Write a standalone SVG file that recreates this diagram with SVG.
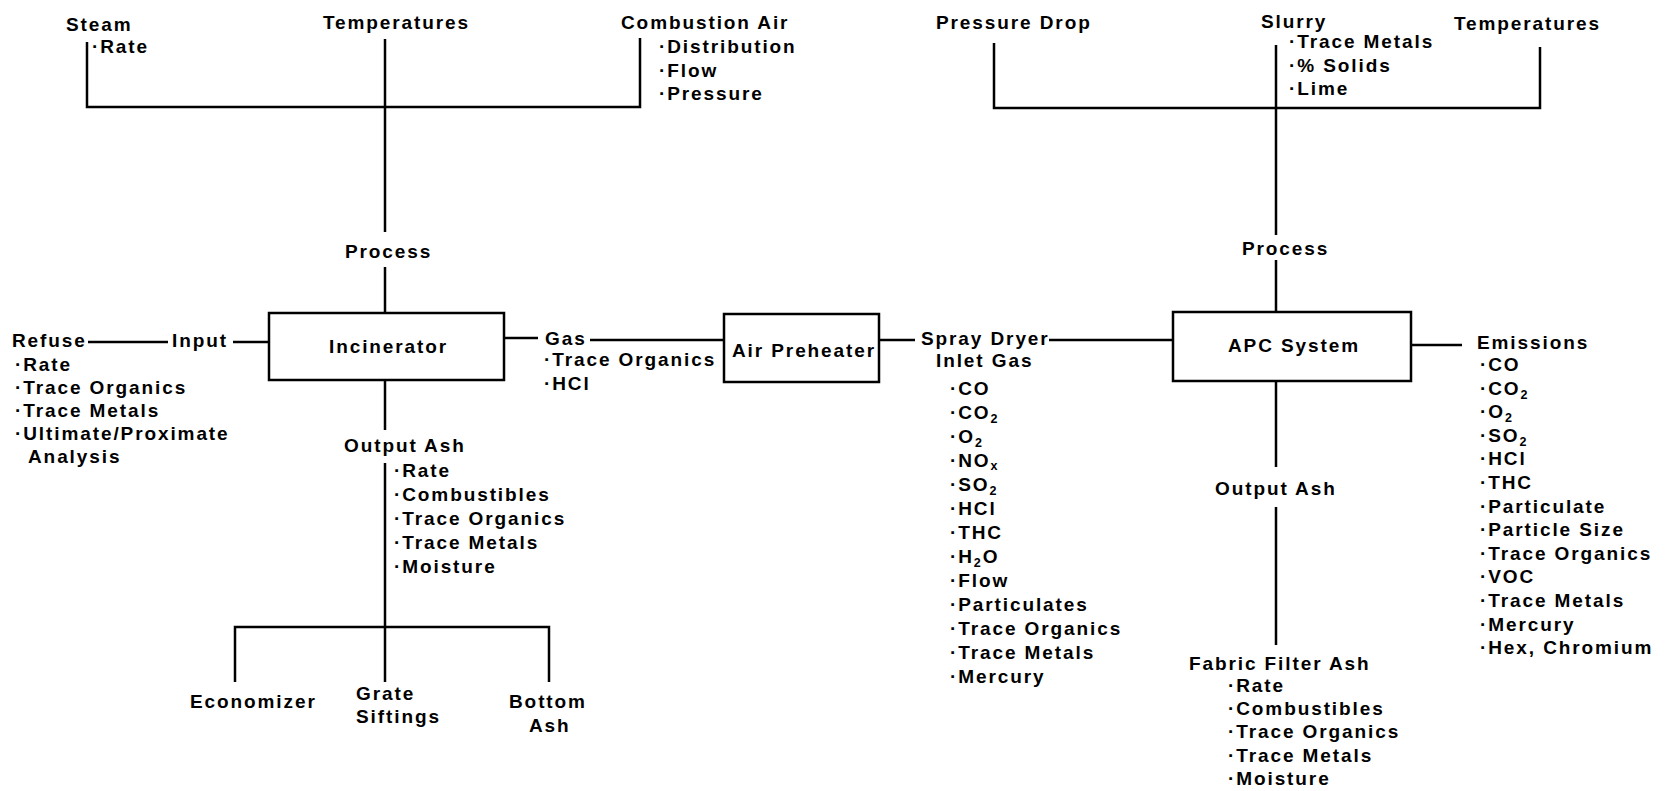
<svg xmlns="http://www.w3.org/2000/svg" width="1665" height="791" viewBox="0 0 1665 791">
<style>
text{font-family:"Liberation Sans",Arial,sans-serif;font-size:19px;font-weight:bold;letter-spacing:1.9px;fill:#000}
.sub{font-size:12.5px}
.ln{stroke:#000;stroke-width:2.5;fill:none}
.box{stroke:#000;stroke-width:2.5;fill:#fff}
</style>
<rect width="1665" height="791" fill="#fff"/>
<g id="connectors">
<path class="ln" d="M87 42V107H640V38"/>
<path class="ln" d="M385 39V232M385 267V313"/>
<path class="ln" d="M88 342H168M233 342H269"/>
<path class="ln" d="M504 338H538M590 340H724"/>
<path class="ln" d="M879 340H915M1049 340H1173"/>
<path class="ln" d="M385 380V430M385 463V682M235 682V627H549V682"/>
<path class="ln" d="M994 43V108H1540V47"/>
<path class="ln" d="M1276 45V235M1276 260V312"/>
<path class="ln" d="M1411 345H1462"/>
<path class="ln" d="M1276 381V467M1276 507V645"/>
</g>
<g id="incinerator">
<rect class="box" x="269" y="313" width="235" height="67"/>
<text x="329" y="353">Incinerator</text>
</g>
<g id="air-preheater">
<rect class="box" x="724" y="314" width="155" height="68"/>
<text x="732" y="357">Air Preheater</text>
</g>
<g id="apc-system">
<rect class="box" x="1173" y="312" width="238" height="69"/>
<text x="1228" y="352">APC System</text>
</g>
<g id="steam">
<text x="66" y="31">Steam</text>
<text x="92" y="53">·Rate</text>
</g>
<g id="temperatures-1"><text x="323" y="29">Temperatures</text></g>
<g id="combustion-air">
<text x="621" y="29">Combustion Air</text>
<text x="659" y="53">·Distribution</text>
<text x="659" y="77">·Flow</text>
<text x="659" y="100">·Pressure</text>
</g>
<g id="process-1"><text x="345" y="258">Process</text></g>
<g id="refuse">
<text x="12" y="347">Refuse</text>
<text x="15" y="371">·Rate</text>
<text x="15" y="394">·Trace Organics</text>
<text x="15" y="417">·Trace Metals</text>
<text x="15" y="440">·Ultimate/Proximate</text>
<text x="28" y="463">Analysis</text>
</g>
<g id="input"><text x="172" y="347">Input</text></g>
<g id="gas">
<text x="545" y="345">Gas</text>
<text x="544" y="366">·Trace Organics</text>
<text x="544" y="390">·HCl</text>
</g>
<g id="output-ash-1">
<text x="344" y="452">Output Ash</text>
<text x="394" y="477">·Rate</text>
<text x="394" y="501">·Combustibles</text>
<text x="394" y="525">·Trace Organics</text>
<text x="394" y="549">·Trace Metals</text>
<text x="394" y="573">·Moisture</text>
</g>
<g id="economizer"><text x="190" y="708">Economizer</text></g>
<g id="grate-siftings">
<text x="356" y="700">Grate</text>
<text x="356" y="723">Siftings</text>
</g>
<g id="bottom-ash">
<text x="509" y="708">Bottom</text>
<text x="529" y="732">Ash</text>
</g>
<g id="spray-dryer">
<text x="921" y="345">Spray Dryer</text>
<text x="936" y="367">Inlet Gas</text>
<text x="950" y="395">·CO</text>
<text x="950" y="419">·CO<tspan class="sub" dy="4">2</tspan></text>
<text x="950" y="443">·O<tspan class="sub" dy="4">2</tspan></text>
<text x="950" y="467">·NO<tspan class="sub" dy="3">x</tspan></text>
<text x="950" y="491">·SO<tspan class="sub" dy="4">2</tspan></text>
<text x="950" y="515">·HCl</text>
<text x="950" y="539">·THC</text>
<text x="950" y="563">·H<tspan class="sub" dy="4">2</tspan><tspan dy="-4">O</tspan></text>
<text x="950" y="587">·Flow</text>
<text x="950" y="611">·Particulates</text>
<text x="950" y="635">·Trace Organics</text>
<text x="950" y="659">·Trace Metals</text>
<text x="950" y="683">·Mercury</text>
</g>
<g id="pressure-drop"><text x="936" y="29">Pressure Drop</text></g>
<g id="slurry">
<text x="1261" y="28">Slurry</text>
<text x="1289" y="48">·Trace Metals</text>
<text x="1289" y="72">·% Solids</text>
<text x="1289" y="95">·Lime</text>
</g>
<g id="temperatures-2"><text x="1454" y="30">Temperatures</text></g>
<g id="process-2"><text x="1242" y="255">Process</text></g>
<g id="emissions">
<text x="1477" y="349">Emissions</text>
<text x="1480" y="371">·CO</text>
<text x="1480" y="395">·CO<tspan class="sub" dy="4">2</tspan></text>
<text x="1480" y="418">·O<tspan class="sub" dy="4">2</tspan></text>
<text x="1480" y="442">·SO<tspan class="sub" dy="4">2</tspan></text>
<text x="1480" y="465">·HCl</text>
<text x="1480" y="489">·THC</text>
<text x="1480" y="513">·Particulate</text>
<text x="1480" y="536">·Particle Size</text>
<text x="1480" y="560">·Trace Organics</text>
<text x="1480" y="583">·VOC</text>
<text x="1480" y="607">·Trace Metals</text>
<text x="1480" y="631">·Mercury</text>
<text x="1480" y="654">·Hex, Chromium</text>
</g>
<g id="output-ash-2"><text x="1215" y="495">Output Ash</text></g>
<g id="fabric-filter-ash">
<text x="1189" y="670">Fabric Filter Ash</text>
<text x="1228" y="692">·Rate</text>
<text x="1228" y="715">·Combustibles</text>
<text x="1228" y="738">·Trace Organics</text>
<text x="1228" y="762">·Trace Metals</text>
<text x="1228" y="785">·Moisture</text>
</g>
</svg>
